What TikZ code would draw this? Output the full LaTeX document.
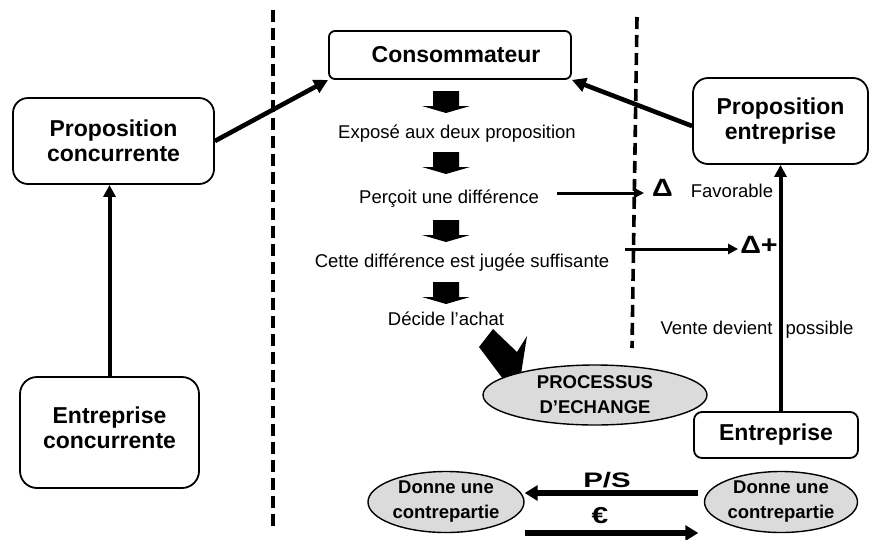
\documentclass[tikz,border=0pt]{standalone}
\usepackage{fontspec}
\usepackage{graphicx}
\setmainfont{Liberation Sans}
\usetikzlibrary{arrows.meta,shapes.geometric,calc}
\begin{document}
\begin{tikzpicture}[x=1pt,y=-1pt,
  box/.style={draw,line width=1.8pt,rounded corners=#1,inner sep=0pt,align=center,
    font=\bfseries\fontsize{23}{25}\selectfont},
  box/.default=15pt,
  ell/.style={ellipse,draw,line width=1.4pt,fill=gray!28,inner sep=0pt,align=center,
    font=\bfseries\fontsize{18.5}{25}\selectfont},
  txt/.style={inner sep=0pt,anchor=base,font=\fontsize{18.5}{22}\selectfont},
  bigsym/.style={inner sep=0pt,anchor=base,font=\bfseries\fontsize{25}{28}\selectfont},
  dashline/.style={line width=3.6pt,dash pattern=on 12pt off 6pt},
  conn/.style={line width=4.6pt,-{Triangle[length=14pt,width=14pt]}},
  vconn/.style={line width=4pt,-{Triangle[length=12pt,width=12pt]}},
  sconn/.style={line width=3pt,-{Triangle[length=10pt,width=10pt]}},
  xconn/.style={line width=5.5pt,-{Triangle[length=13pt,width=15pt]}},
  downblk/.pic={\fill (-13,0) -- (13,0) -- (13,15) -- (24,15) -- (0,22) -- (-24,15) -- (-13,15) -- cycle;}
]
\useasboundingbox (0,0) rectangle (869,539);

% dashed separators
\draw[dashline] (273,10) -- (273,528);
\draw[dashline] (637,17) -- (632,348);

% boxes
\node[box=6pt,minimum width=242pt,minimum height=48pt] (cons) at (450,55) {\hspace*{12pt}Consommateur};
\node[box,minimum width=201pt,minimum height=86pt] (pc) at (113.5,141) {Proposition\\concurrente};
\node[box=17pt,minimum width=179pt,minimum height=111pt] (ec) at (109.5,432.5) {Entreprise\\concurrente\rule[-9pt]{0pt}{9pt}};
\node[box,minimum width=175pt,minimum height=86pt] (pe) at (780.5,121) {Proposition\\entreprise};
\node[box=8pt,minimum width=164pt,minimum height=46pt] (ent) at (776,435) {Entreprise};

% process texts
\node[txt] (expose) at (457,138) {Exposé aux deux proposition};
\node[txt] (percoit) at (449,203) {Perçoit une différence};
\node[txt] (cette) at (462,267) {Cette différence est jugée suffisante};
\node[txt] (decide) at (446,325) {Décide l’achat};
\node[txt] (fav) at (732,197) {Favorable};
\node[txt] (vente) at (757,334) {Vente devient\hspace{13pt}possible};

\pic at (446,91) {downblk};
\pic at (446,152) {downblk};
\pic at (446,220) {downblk};
\pic at (446,282) {downblk};

% deltas
\node[bigsym] (d1) at (662.5,196) {\scalebox{1.15}[1]{Δ}};
\node[bigsym] (d2) at (759,253) {\scalebox{1.15}[1]{Δ+}};
\coordinate (a1s) at (557,193);
\coordinate (a2s) at (625,249);
\draw[sconn,shorten >=8pt] (a1s) -- (d1.west |- a1s);
\draw[sconn,shorten >=2pt] (a2s) -- (d2.west |- a2s);

% connectors
\draw[conn] (pc.east) -- (cons.south west);
\draw[conn] ([yshift=-5pt]pe.west) -- (cons.south east);
\draw[vconn] (ec.north) -- (ec.north |- pc.south);
\draw[vconn] (pe.south |- ent.north) -- (pe.south);

% big slanted block arrow
\fill (493,329) -- (517,352) -- (527,336) -- (521,374) -- (503,379) -- (479,347) -- cycle;

% ellipses
\node[ell,minimum width=224pt,minimum height=60pt] (proc) at (595,395) {PROCESSUS\\D’ECHANGE};
\node[ell,minimum width=156pt,minimum height=61pt] (dl) at (446,502) {Donne une\\contrepartie};
\node[ell,minimum width=153pt,minimum height=61pt] (dr) at (781,502) {Donne une\\contrepartie};

% exchange arrows
\draw[xconn,shorten <=5.5pt] ([yshift=9pt]dr.west) -- ([yshift=9pt]dl.east);
\draw[xconn,shorten >=5.5pt] ([yshift=-31pt]dl.east) -- ([yshift=-31pt]dr.west);
\node[bigsym,font=\bfseries\fontsize{21}{24}\selectfont] (ps) at (607,487) {\scalebox{1.4}[1]{P/S}};
\node[bigsym,font=\bfseries\fontsize{23}{24}\selectfont] (eur) at (600,523) {\scalebox{1.3}[1]{€}};
\end{tikzpicture}
\end{document}
